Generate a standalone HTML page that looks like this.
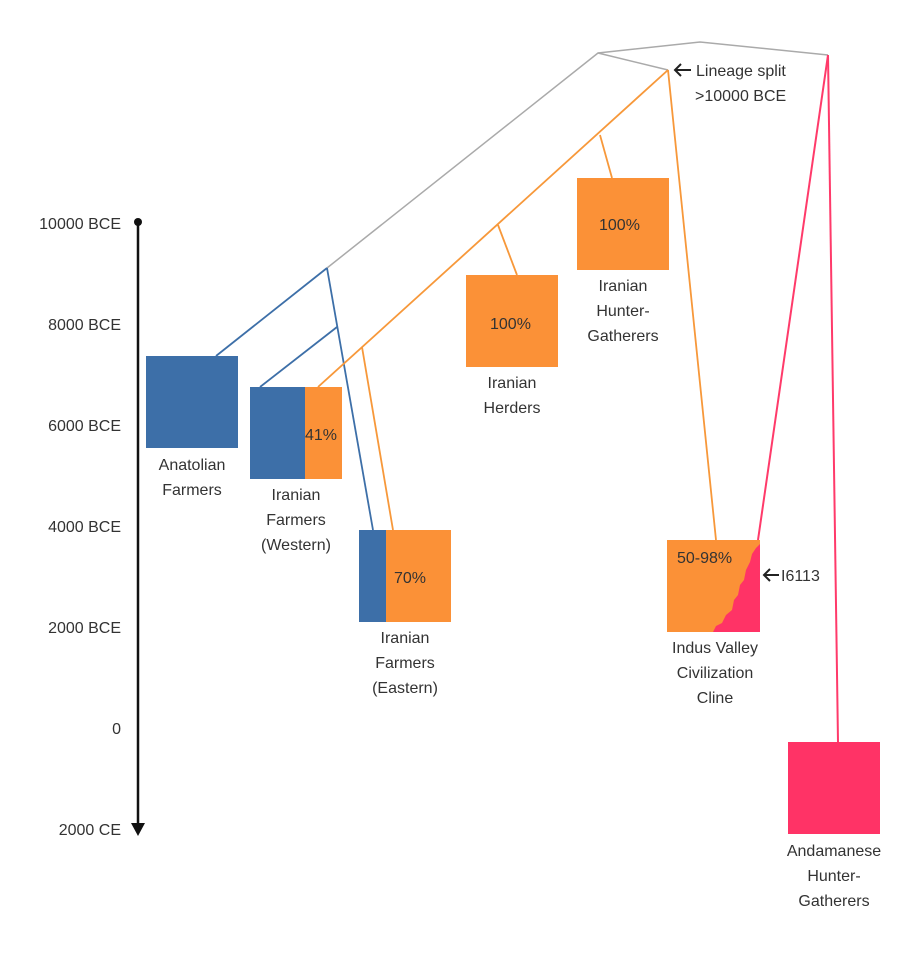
<!DOCTYPE html>
<html><head><style>
body{margin:0;background:#fff}
svg{display:block}
text{font-family:"Liberation Sans",sans-serif;font-size:16px;fill:#333}
</style></head><body>
<svg width="917" height="960" viewBox="0 0 917 960" xmlns="http://www.w3.org/2000/svg">
<line x1="138" y1="222" x2="138" y2="826" stroke="#111" stroke-width="2.5"/>
<circle cx="138" cy="222" r="4" fill="#111"/>
<polygon points="131,823 145,823 138,836" fill="#111"/>
<g text-anchor="end">
<text x="121" y="229">10000 BCE</text>
<text x="121" y="330">8000 BCE</text>
<text x="121" y="431">6000 BCE</text>
<text x="121" y="532">4000 BCE</text>
<text x="121" y="633">2000 BCE</text>
<text x="121" y="734">0</text>
<text x="121" y="835">2000 CE</text>
</g>
<polyline points="327,268 598,53 700,42 828,55" fill="none" stroke="#aaa" stroke-width="1.5"/>
<line x1="598" y1="53" x2="668" y2="70" stroke="#aaa" stroke-width="1.5"/>
<g stroke="#3d6fa8" stroke-width="1.8" fill="none">
<line x1="216" y1="356" x2="327" y2="268"/>
<line x1="327" y1="268" x2="373" y2="530"/>
<line x1="337" y1="327" x2="260" y2="387"/>
</g>
<g stroke="#f7983a" stroke-width="1.8" fill="none">
<line x1="318" y1="387" x2="668" y2="70"/>
<line x1="362" y1="347" x2="393" y2="530"/>
<line x1="498" y1="225" x2="517" y2="275"/>
<line x1="600" y1="135" x2="612" y2="178"/>
<line x1="668" y1="70" x2="716" y2="540"/>
</g>
<g stroke="#ff3a6a" stroke-width="2" fill="none">
<line x1="828" y1="55" x2="758" y2="540"/>
<line x1="828" y1="55" x2="838" y2="742"/>
</g>
<rect x="146" y="356" width="92" height="92" fill="#3d6fa8"/>
<rect x="250" y="387" width="55" height="92" fill="#3d6fa8"/>
<rect x="305" y="387" width="37" height="92" fill="#fb9137"/>
<rect x="359" y="530" width="27" height="92" fill="#3d6fa8"/>
<rect x="386" y="530" width="65" height="92" fill="#fb9137"/>
<rect x="466" y="275" width="92" height="92" fill="#fb9137"/>
<rect x="577" y="178" width="92" height="92" fill="#fb9137"/>
<rect x="667" y="540" width="93" height="92" fill="#fb9137"/>
<polygon points="713,632 716,626 722,623 726,615 732,610 734,600 738,595 740,585 744,580 746,570 750,562 752,554 756,548 760,544 760,632" fill="#ff3366"/>
<rect x="788" y="742" width="92" height="92" fill="#ff3366"/>
<text x="305" y="440">41%</text>
<text x="394" y="583">70%</text>
<text x="490" y="329">100%</text>
<text x="599" y="230">100%</text>
<text x="677" y="563">50-98%</text>
<g text-anchor="middle">
<text x="192" y="470">Anatolian</text>
<text x="192" y="495">Farmers</text>
<text x="296" y="500">Iranian</text>
<text x="296" y="525">Farmers</text>
<text x="296" y="550">(Western)</text>
<text x="405" y="643">Iranian</text>
<text x="405" y="668">Farmers</text>
<text x="405" y="693">(Eastern)</text>
<text x="512" y="388">Iranian</text>
<text x="512" y="413">Herders</text>
<text x="623" y="291">Iranian</text>
<text x="623" y="316">Hunter-</text>
<text x="623" y="341">Gatherers</text>
<text x="715" y="653">Indus Valley</text>
<text x="715" y="678">Civilization</text>
<text x="715" y="703">Cline</text>
<text x="834" y="856">Andamanese</text>
<text x="834" y="881">Hunter-</text>
<text x="834" y="906">Gatherers</text>
</g>
<g stroke="#222" stroke-width="2" fill="none">
<line x1="675" y1="70" x2="691" y2="70"/>
<polyline points="681,64 675,70 681,76"/>
<line x1="764" y1="575" x2="779" y2="575"/>
<polyline points="770,569 764,575 770,581"/>
</g>
<text x="696" y="76">Lineage split</text>
<text x="695" y="101">&gt;10000 BCE</text>
<text x="781" y="581">I6113</text>
</svg>
</body></html>
